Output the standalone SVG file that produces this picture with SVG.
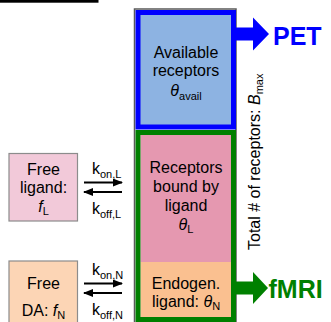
<svg xmlns="http://www.w3.org/2000/svg" width="331" height="322" viewBox="0 0 331 322">
<defs>
<style>
text{font-family:"Liberation Sans",Arial,sans-serif;font-size:16px;fill:#000}
.c{text-anchor:middle}
.sub{font-size:11px}
.it{font-style:italic}
.big{font-size:25px;font-weight:bold}
.src{stroke:#8c8c8c;stroke-width:1.2}
.k{stroke:#000;stroke-width:2;fill:none}
</style>
<marker id="ah" viewBox="0 0 10 8" refX="9" refY="4" markerWidth="10" markerHeight="8" markerUnits="userSpaceOnUse" orient="auto">
<path d="M0,0 L10,4 L0,8 Z" fill="#000"/>
</marker>
</defs>
<rect x="0" y="0" width="98.5" height="2.7" fill="#000"/>
<rect x="134.5" y="9" width="101.5" height="320" fill="none" stroke="#5a5a5a" stroke-width="1.5"/>

<g id="connectors">
<line class="k" x1="84" y1="182.5" x2="122" y2="182.5" marker-end="url(#ah)"/>
<line class="k" x1="122" y1="192" x2="84" y2="192" marker-end="url(#ah)"/>
<line class="k" x1="84" y1="283.5" x2="122" y2="283.5" marker-end="url(#ah)"/>
<line class="k" x1="122" y1="293" x2="84" y2="293" marker-end="url(#ah)"/>
<polygon points="233,27.5 253,27.5 253,17.5 269,34 253,50.5 253,40.5 233,40.5" fill="#0000ff"/>
<polygon points="233,281.5 253,281.5 253,272 268,288 253,304 253,294.5 233,294.5" fill="#008000"/>
<text x="92" y="174">k<tspan class="sub" dy="4">on,L</tspan></text>
<text x="92" y="213.5">k<tspan class="sub" dy="4">off,L</tspan></text>
<text x="92" y="275">k<tspan class="sub" dy="4">on,N</tspan></text>
<text x="92" y="314.5">k<tspan class="sub" dy="4">off,N</tspan></text>
</g>

<g id="free-ligand">
<rect class="src" x="9" y="153.5" width="68.5" height="67.5" fill="#f2c9d9"/>
<text class="c" x="43.5" y="174.5">Free</text>
<text class="c" x="43.5" y="193">ligand:</text>
<text class="c" x="43.5" y="212"><tspan class="it">f</tspan><tspan class="sub" dy="3">L</tspan></text>
</g>

<g id="free-da">
<rect class="src" x="9" y="261" width="68.5" height="70" fill="#fcd5b5"/>
<text class="c" x="43.5" y="288.5">Free</text>
<text class="c" x="43.5" y="316">DA: <tspan class="it">f</tspan><tspan class="sub" dy="3">N</tspan></text>
</g>

<g id="available">
<rect x="138" y="12.5" width="95.5" height="114.5" fill="#8db3e2" stroke="#0000ff" stroke-width="5"/>
<text class="c" x="186" y="57.5">Available</text>
<text class="c" x="186" y="76">receptors</text>
<text class="c" x="186" y="96"><tspan class="it">θ</tspan><tspan class="sub" dy="4">avail</tspan></text>
</g>

<g id="bound">
<rect x="140.5" y="135" width="90.5" height="127" fill="#e598b0"/>
<rect x="140.5" y="262" width="90.5" height="55" fill="#fac090"/>
<rect x="138" y="132.5" width="95.5" height="187" fill="none" stroke="#008000" stroke-width="5"/>
<text class="c" x="186" y="173">Receptors</text>
<text class="c" x="186" y="192">bound by</text>
<text class="c" x="186" y="211">ligand</text>
<text class="c" x="186" y="230"><tspan class="it">θ</tspan><tspan class="sub" dy="3">L</tspan></text>
<text class="c" x="186" y="288.5">Endogen.</text>
<text class="c" x="186" y="307">ligand: <tspan class="it">θ</tspan><tspan class="sub" dy="3">N</tspan></text>
</g>

<text transform="translate(260,250) rotate(-90)">Total # of receptors: <tspan class="it">B</tspan><tspan class="sub" dy="3">max</tspan></text>
<text class="big" x="273" y="44.5" style="fill:#0000ff">PET</text>
<text class="big" x="268.5" y="298" style="fill:#008000">fMRI</text>
</svg>
